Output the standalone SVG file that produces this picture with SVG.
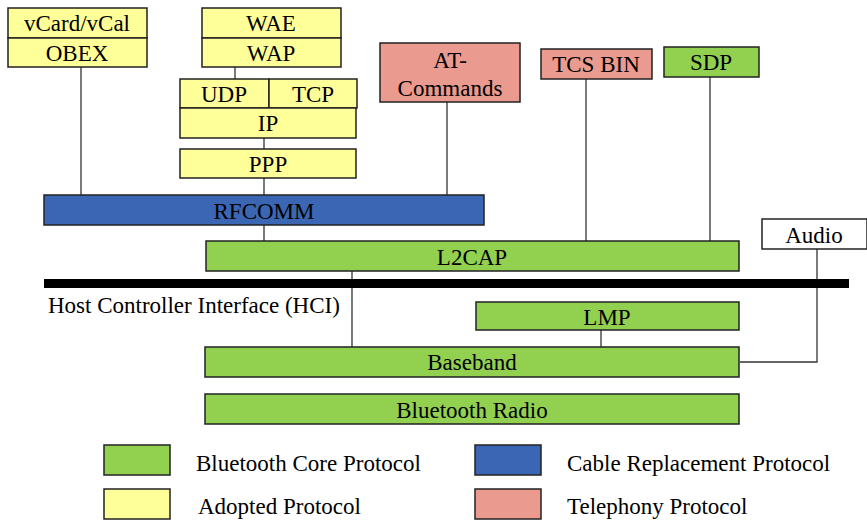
<svg xmlns="http://www.w3.org/2000/svg" width="867" height="520" viewBox="0 0 867 520">
<style>
.b{stroke:#222;stroke-width:1.5}
.g{fill:#92D050}.y{fill:#FFFF99}.bl{fill:#3A66B4}.p{fill:#EA9A8F}.w{fill:#fff}
text{font-family:'Liberation Serif','Tinos','Times New Roman','DejaVu Serif',serif;font-size:23px;fill:#000}
.c{text-anchor:middle}
.ln{stroke:#333;stroke-width:1.3;fill:none}
</style>
<rect width="867" height="520" fill="#fff"/>
<g id="connectors">
<line class="ln" x1="81" y1="67" x2="81" y2="195"/>
<line class="ln" x1="235" y1="67" x2="235" y2="79"/>
<line class="ln" x1="264" y1="138" x2="264" y2="149"/>
<line class="ln" x1="264" y1="178" x2="264" y2="195"/>
<line class="ln" x1="447" y1="102" x2="447" y2="195"/>
<line class="ln" x1="586" y1="79" x2="586" y2="241"/>
<line class="ln" x1="710" y1="77" x2="710" y2="241"/>
<line class="ln" x1="264" y1="225" x2="264" y2="241"/>
<line class="ln" x1="352" y1="271" x2="352" y2="347"/>
<line class="ln" x1="601" y1="330" x2="601" y2="347"/>
<polyline class="ln" points="817,249 817,362 740,362"/>
</g>
<g id="vcard"><rect class="b y" x="8" y="8" width="139" height="30"/><text class="c" x="77" y="31" font-family="Liberation Serif, serif">vCard/vCal</text></g>
<g id="obex"><rect class="b y" x="8" y="38" width="139" height="29"/><text class="c" x="77" y="61">OBEX</text></g>
<g id="wae"><rect class="b y" x="202" y="8" width="139" height="30"/><text class="c" x="271" y="31">WAE</text></g>
<g id="wap"><rect class="b y" x="202" y="38" width="139" height="29"/><text class="c" x="271" y="61">WAP</text></g>
<g id="udp"><rect class="b y" x="180" y="79" width="89" height="29"/><text class="c" x="224" y="102">UDP</text></g>
<g id="tcp"><rect class="b y" x="269" y="79" width="88" height="29"/><text class="c" x="313" y="102">TCP</text></g>
<g id="ip"><rect class="b y" x="180" y="108" width="176" height="30"/><text class="c" x="268" y="131">IP</text></g>
<g id="ppp"><rect class="b y" x="180" y="149" width="176" height="29"/><text class="c" x="268" y="172">PPP</text></g>
<g id="at"><rect class="b p" x="380" y="43" width="140" height="59"/><text class="c" x="450" y="68">AT-</text><text class="c" x="450" y="96">Commands</text></g>
<g id="tcs"><rect class="b p" x="541" y="49" width="111" height="30"/><text class="c" x="596" y="72">TCS BIN</text></g>
<g id="sdp"><rect class="b g" x="664" y="47" width="95" height="30"/><text class="c" x="711" y="70">SDP</text></g>
<g id="rfcomm"><rect class="b bl" x="44" y="195" width="440" height="30"/><text class="c" x="264" y="219">RFCOMM</text></g>
<g id="l2cap"><rect class="b g" x="206" y="241" width="533" height="30"/><text class="c" x="472" y="265">L2CAP</text></g>
<g id="audio"><rect class="b w" x="762" y="219" width="105" height="30"/><text class="c" x="814" y="243">Audio</text></g>
<g id="hci"><rect x="44" y="279" width="805" height="9" fill="#000"/><text x="48" y="313">Host Controller Interface (HCI)</text></g>
<g id="lmp"><rect class="b g" x="476" y="302" width="263" height="28"/><text class="c" x="607" y="325">LMP</text></g>
<g id="baseband"><rect class="b g" x="205" y="347" width="534" height="30"/><text class="c" x="472" y="370">Baseband</text></g>
<g id="radio"><rect class="b g" x="205" y="394" width="534" height="30"/><text class="c" x="472" y="418">Bluetooth Radio</text></g>
<g id="legend">
<rect class="b g" x="104" y="445" width="66" height="30"/><text x="196" y="471">Bluetooth Core Protocol</text>
<rect class="b y" x="104" y="489" width="66" height="30"/><text x="198" y="514">Adopted Protocol</text>
<rect class="b bl" x="475" y="445" width="66" height="30"/><text x="567" y="471">Cable Replacement Protocol</text>
<rect class="b p" x="475" y="489" width="66" height="30"/><text x="567" y="514">Telephony Protocol</text>
</g>
</svg>
